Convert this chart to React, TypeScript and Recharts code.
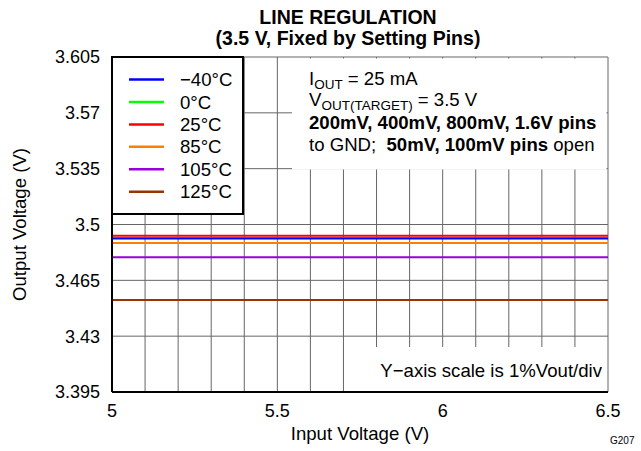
import React from 'react';
import { LineChart, Line, XAxis, YAxis, CartesianGrid, Label } from 'recharts';

const FONT = '"Liberation Sans", Arial, Helvetica, sans-serif';

const inputVoltage = [5, 5.5, 6, 6.5];
const outM40 = [3.4913, 3.4913, 3.4913, 3.4913];
const out0 = [3.4915, 3.4915, 3.4915, 3.4915];
const out25 = [3.493, 3.493, 3.493, 3.493];
const out85 = [3.4884, 3.4884, 3.4884, 3.4884];
const out105 = [3.4794, 3.4794, 3.4794, 3.4794];
const out125 = [3.4527, 3.4527, 3.4527, 3.4527];

const seriesKeys = ['m40', 'z0', 't25', 't85', 't105', 't125'];
const seriesNames = ['\u221240°C', '0°C', '25°C', '85°C', '105°C', '125°C'];
const seriesColors = ['#0000ff', '#00ff00', '#ff0000', '#ff8000', '#9900dd', '#993300'];
const seriesValues = [outM40, out0, out25, out85, out105, out125];
const drawOrder = [1, 0, 3, 4, 5, 2];

const yTicks = [3.395, 3.43, 3.465, 3.5, 3.535, 3.57, 3.605];
const xMajorTicks = [5, 5.5, 6, 6.5];
const xGridTicks = [5, 5.1, 5.2, 5.3, 5.4, 5.5, 5.6, 5.7, 5.8, 5.9, 6, 6.1, 6.2, 6.3, 6.4, 6.5];

const data = inputVoltage.map((x, i) => {
  const row: Record<string, number> = { x };
  seriesKeys.forEach((k, s) => {
    row[k] = seriesValues[s][i];
  });
  return row;
});

const tickStyle = { fill: '#000', fontSize: 18, fontFamily: FONT };
const frame = { stroke: '#000', strokeWidth: 2 };
const TXT = 18.6;

export default function App() {
  return (
    <div style={{ position: 'fixed', left: 0, top: 0, width: 641, height: 451, background: '#fff' }}>
      <LineChart
        width={641}
        height={451}
        data={data}
        margin={{ top: 57, right: 33, bottom: 9, left: 12 }}
        style={{ fontFamily: FONT }}
      >
        <CartesianGrid stroke="#666" strokeWidth={1} />
        <XAxis
          dataKey="x"
          type="number"
          domain={[5, 6.5]}
          ticks={xGridTicks}
          interval={0}
          tickFormatter={(v: number) => (xMajorTicks.includes(v) ? String(v) : '')}
          tickLine={false}
          tickSize={0}
          tickMargin={12}
          axisLine={frame}
          tick={tickStyle}
          height={50}
          allowDataOverflow
        >
          <Label
            content={(props: any) => {
              const vb = props.viewBox || { x: 112, y: 392, width: 496 };
              return (
                <text x={vb.x + vb.width / 2} y={vb.y + 48} textAnchor="middle" fontSize={TXT} fontFamily={FONT} fill="#000">
                  Input Voltage (V)
                </text>
              );
            }}
          />
        </XAxis>
        <XAxis
          xAxisId="top"
          orientation="top"
          dataKey="x"
          type="number"
          domain={[5, 6.5]}
          ticks={xMajorTicks}
          tick={false}
          tickLine={false}
          axisLine={frame}
          height={0}
          allowDataOverflow
        />
        <YAxis
          type="number"
          domain={[3.395, 3.605]}
          ticks={yTicks}
          interval={0}
          tickLine={false}
          tickSize={0}
          tickMargin={12}
          axisLine={frame}
          tick={tickStyle}
          width={100}
          allowDataOverflow
        >
          <Label
            content={(props: any) => {
              const vb = props.viewBox || { x: 12, y: 57, width: 100, height: 335 };
              const cx = vb.x + 14;
              const cy = vb.y + vb.height / 2;
              return (
                <text
                  x={cx}
                  y={cy}
                  transform={`rotate(-90 ${cx} ${cy})`}
                  textAnchor="middle"
                  fontSize={TXT}
                  fontFamily={FONT}
                  fill="#000"
                >
                  Output Voltage (V)
                </text>
              );
            }}
          />
        </YAxis>
        <YAxis
          yAxisId="right"
          orientation="right"
          type="number"
          domain={[3.395, 3.605]}
          ticks={yTicks}
          tick={false}
          tickLine={false}
          axisLine={frame}
          width={0}
          allowDataOverflow
        />
        {drawOrder.map((s) => (
          <Line
            key={seriesKeys[s]}
            dataKey={seriesKeys[s]}
            name={seriesNames[s]}
            stroke={seriesColors[s]}
            strokeWidth={2}
            dot={false}
            isAnimationActive={false}
          />
        ))}
      </LineChart>
      <svg
        width={641}
        height={451}
        style={{ position: 'absolute', left: 0, top: 0, pointerEvents: 'none' }}
        fontFamily={FONT}
      >
        <text x={348} y={23.5} textAnchor="middle" fontSize={19.5} fontWeight="bold" fill="#000">
          LINE REGULATION
        </text>
        <text x={348} y={44.5} textAnchor="middle" fontSize={19.5} fontWeight="bold" fill="#000">
          (3.5 V, Fixed by Setting Pins)
        </text>

        <rect x={112} y={57} width={131} height={157} fill="#fff" stroke="#000" strokeWidth={2} />
        {seriesNames.map((n, i) => {
          const yc = 79.5 + i * 22.45;
          return (
            <g key={n}>
              <line x1={129} x2={164} y1={yc} y2={yc} stroke={seriesColors[i]} strokeWidth={2.5} />
              <text x={180} y={yc + 6.6} fontSize={TXT} fill="#000">
                {n}
              </text>
            </g>
          );
        })}

        <rect x={292} y={58.5} width={314.5} height={111} fill="#fff" />
        <text x={309} y={85} fontSize={TXT} fill="#000">
          I<tspan fontSize={13.5} dy={3.5}>OUT</tspan>
          <tspan dy={-3.5}> = 25 mA</tspan>
        </text>
        <text x={309} y={106} fontSize={TXT} fill="#000">
          V<tspan fontSize={13.5} dy={3.5}>OUT(TARGET)</tspan>
          <tspan dy={-3.5}> = 3.5 V</tspan>
        </text>
        <text x={309} y={129} fontSize={TXT} fill="#000" fontWeight="bold">
          200mV, 400mV, 800mV, 1.6V pins
        </text>
        <text x={309} y={151} fontSize={TXT} fill="#000">
          to GND;
          <tspan fontWeight="bold">{'\u00a0 50mV, 100mV pins'}</tspan>
          <tspan>{' open'}</tspan>
        </text>

        <rect x={349} y={347} width={258} height={44} fill="#fff" />
        <text x={602} y={377} textAnchor="end" fontSize={TXT} fill="#000">
          Y{'\u2212'}axis scale is 1%Vout/div
        </text>

        <text x={610} y={444} fontSize={10} fill="#000">
          G207
        </text>
      </svg>
    </div>
  );
}
